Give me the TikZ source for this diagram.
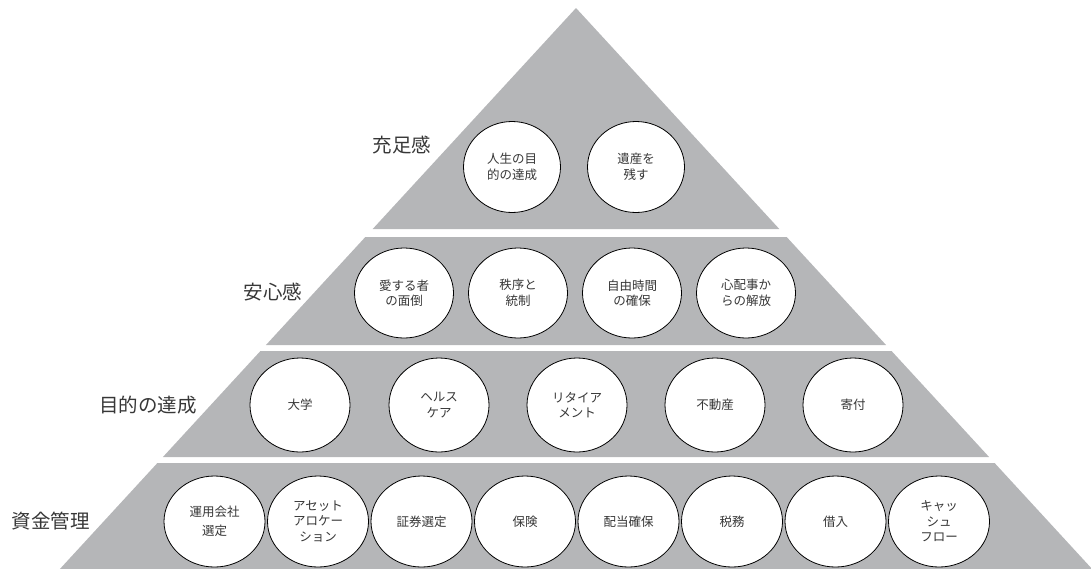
\documentclass[tikz,border=0pt]{standalone}
\usepackage{fontspec}
\setmainfont{Noto Sans CJK JP}
\usetikzlibrary{shapes.geometric}
\definecolor{pyrgray}{RGB}{181,182,184}
\definecolor{txtgray}{RGB}{55,55,55}
\newcommand{\pyrlayer}[2]{%
  \fill[pyrgray] ({576-0.92*(#1-8)},#1) -- ({576+0.92*(#1-8)},#1)
    -- ({576+0.92*(#2-8)},#2) -- ({576-0.92*(#2-8)},#2) -- cycle;}
\tikzset{
  bubble/.style={ellipse, draw=black, line width=0.8pt, fill=white, inner sep=0pt,
    align=center, text=txtgray, font=\fontsize{12.5}{15.5}\selectfont},
  b1/.style={bubble, minimum width=97pt, minimum height=91pt},
  b2/.style={bubble, minimum width=99pt, minimum height=90pt},
  b3/.style={bubble, minimum width=100pt, minimum height=94pt},
  b4/.style={bubble, minimum width=101pt, minimum height=91pt},
  lvl/.style={text=txtgray, font=\fontsize{19.5}{22}\selectfont, inner sep=0pt}
}
\begin{document}
\begin{tikzpicture}[x=1pt,y=-1pt]
\useasboundingbox (0,0) rectangle (1091,568);
\pyrlayer{8}{229}
\pyrlayer{237}{345}
\pyrlayer{351}{457}
\pyrlayer{463}{575}
% level labels
\node[lvl] (l1) at (402,145) {充足感};
\node[lvl] (l2) at (273,292) {安心感};
\node[lvl] (l3) at (148,405) {目的の達成};
\node[lvl] (l4) at (51,521) {資金管理};
% layer 1
\node[b1] (a1) at (512,167) {人生の目\\的の達成};
\node[b1] (a2) at (636,167) {遺産を\\残す};
% layer 2
\node[b2] (b1n) at (404,293) {愛する者\\の面倒};
\node[b2] (b2n) at (518,293) {秩序と\\統制};
\node[b2] (b3n) at (632,293) {自由時間\\の確保};
\node[b2] (b4n) at (746,293) {心配事か\\らの解放};
% layer 3
\node[b3] (c1) at (300,405) {大学};
\node[b3] (c2) at (439,405) {ヘルス\\ケア};
\node[b3] (c3) at (577,405) {リタイア\\メント};
\node[b3] (c4) at (715,405) {不動産};
\node[b3] (c5) at (853,405) {寄付};
% layer 4
\node[b4] (d1) at (214.5,521.5) {運用会社\\[4pt]選定};
\node[b4] (d2) at (318,521.5) {アセット\\アロケー\\ション};
\node[b4] (d3) at (421.5,521.5) {証券選定};
\node[b4] (d4) at (525,521.5) {保険};
\node[b4] (d5) at (628.5,521.5) {配当確保};
\node[b4] (d6) at (732,521.5) {税務};
\node[b4] (d7) at (835.5,521.5) {借入};
\node[b4] (d8) at (939,521.5) {キャッ\\シュ\\フロー};
\end{tikzpicture}
\end{document}
